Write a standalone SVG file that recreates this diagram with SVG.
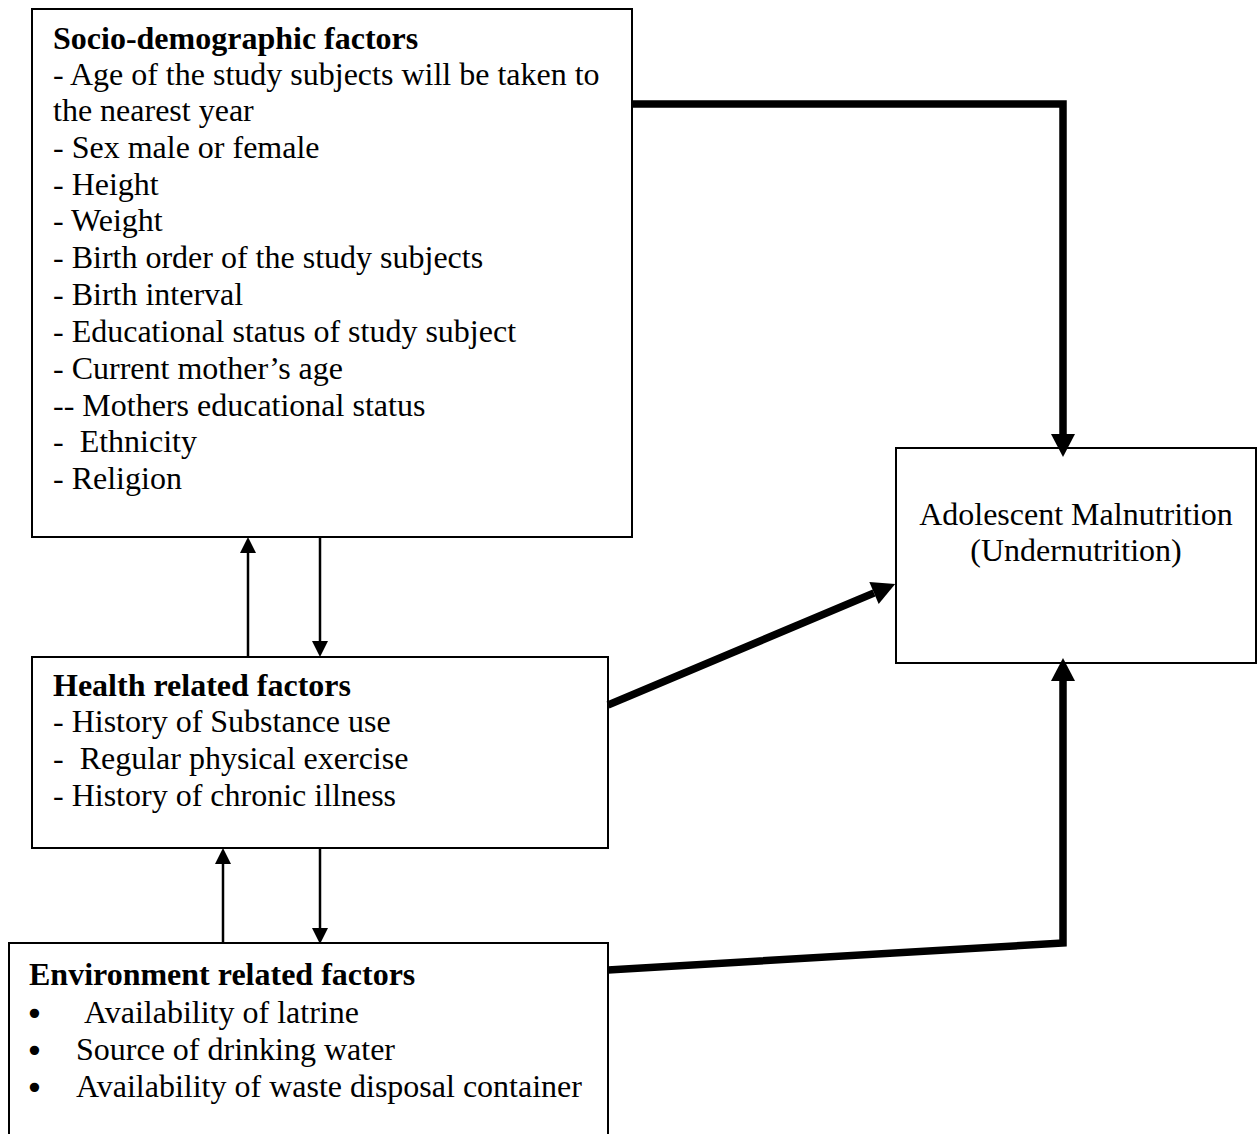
<svg xmlns="http://www.w3.org/2000/svg" width="1257" height="1134" viewBox="0 0 1257 1134">
<style>
.box{fill:#fff;stroke:#000;stroke-width:2}
text{font-family:"Liberation Serif","Times New Roman",serif;font-size:32px;fill:#000;white-space:pre}
.b{font-weight:bold}
.bul{font-family:"DejaVu Sans",sans-serif;font-size:32px}
.thin{fill:none;stroke:#000;stroke-width:2.5}
.thick{fill:none;stroke:#000;stroke-width:7.5}
</style>
<defs>
<marker id="ah" markerUnits="userSpaceOnUse" markerWidth="24" markerHeight="24" refX="0" refY="12" orient="auto" overflow="visible">
<path d="M0,0 L23,12 L0,24 Z" fill="#000"/>
</marker>
<marker id="as" markerUnits="userSpaceOnUse" markerWidth="16" markerHeight="16" refX="0" refY="8" orient="auto" overflow="visible">
<path d="M0,0 L16,8 L0,16 Z" fill="#000"/>
</marker>
</defs>
<rect width="1257" height="1134" fill="#fff"/>
<g id="socio">
<rect class="box" x="32" y="9" width="600" height="528"/>
<text class="b" x="53" y="49">Socio-demographic factors</text>
<text x="53" y="85">- Age of the study subjects will be taken to</text>
<text x="53" y="121">the nearest year</text>
<text x="53" y="158">- Sex male or female</text>
<text x="53" y="195">- Height</text>
<text x="53" y="231">- Weight</text>
<text x="53" y="268">- Birth order of the study subjects</text>
<text x="53" y="305">- Birth interval</text>
<text x="53" y="342">- Educational status of study subject</text>
<text x="53" y="379">- Current mother’s age</text>
<text x="53" y="416">-- Mothers educational status</text>
<text x="53" y="452">-  Ethnicity</text>
<text x="53" y="489">- Religion</text>
</g>
<g id="health">
<rect class="box" x="32" y="657" width="576" height="191"/>
<text class="b" x="53" y="696">Health related factors</text>
<text x="53" y="732">- History of Substance use</text>
<text x="53" y="769">-  Regular physical exercise</text>
<text x="53" y="806">- History of chronic illness</text>
</g>
<g id="environment">
<path class="box" d="M9,1140 V943 H608 V1140"/>
<text class="b" x="29" y="985">Environment related factors</text>
<text y="1023"><tspan class="bul" x="25" dy="2">•</tspan><tspan x="84" dy="-2">Availability of latrine</tspan></text>
<text y="1060"><tspan class="bul" x="25" dy="2">•</tspan><tspan x="76" dy="-2">Source of drinking water</tspan></text>
<text y="1097"><tspan class="bul" x="25" dy="2">•</tspan><tspan x="76" dy="-2">Availability of waste disposal container</tspan></text>
</g>
<g id="outcome">
<rect class="box" x="896" y="448" width="360" height="215"/>
<text x="1076" y="525" text-anchor="middle">Adolescent Malnutrition</text>
<text x="1076" y="561" text-anchor="middle">(Undernutrition)</text>
</g>
<g id="connectors">
<path class="thick" d="M632,104 H1063 V434" marker-end="url(#ah)"/>
<path class="thick" d="M608,705 L874,593" marker-end="url(#ah)"/>
<path class="thick" d="M608,970 L1063,943 V681" marker-end="url(#ah)"/>
<path class="thin" d="M248,657 V553" marker-end="url(#as)"/>
<path class="thin" d="M320,537 V641" marker-end="url(#as)"/>
<path class="thin" d="M223,943 V864" marker-end="url(#as)"/>
<path class="thin" d="M320,848 V928" marker-end="url(#as)"/>
</g>
</svg>
